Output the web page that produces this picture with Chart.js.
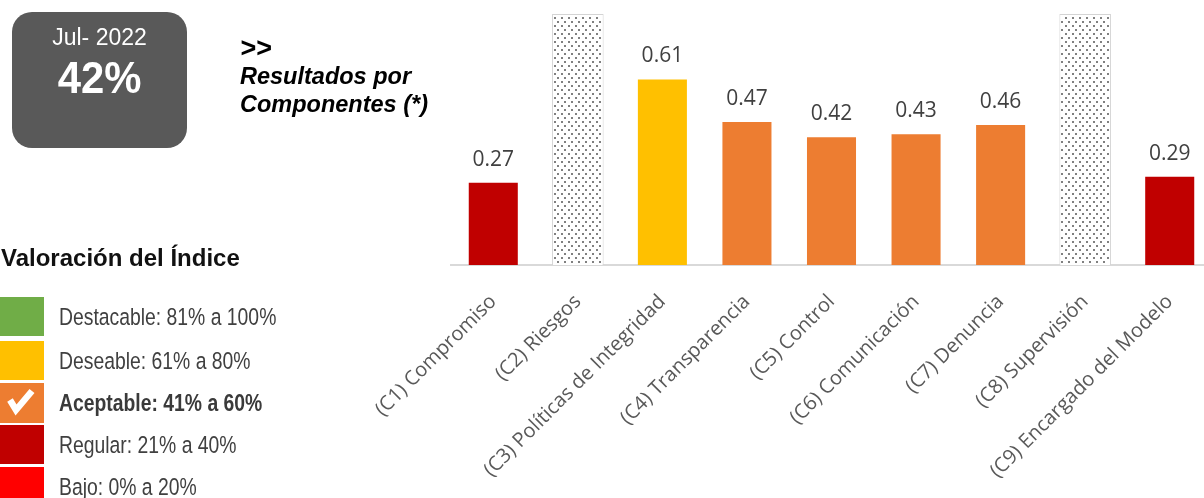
<!DOCTYPE html>
<html>
<head>
<meta charset="utf-8">
<script src="https://cdn.jsdelivr.net/npm/chart.js@4.4.1/dist/chart.umd.min.js"></script>
<style>
  html, body { margin:0; padding:0; background:#fff; width:1204px; height:498px; overflow:hidden; position:relative; }
  .t { position:absolute; white-space:nowrap; line-height:1; font-family:"Liberation Sans", Arial, sans-serif; z-index:2; }
  .box { position:absolute; left:12px; top:12px; width:175px; height:136px; border-radius:20px; background:#595959; z-index:1; }
  .sw { position:absolute; left:0; width:44px; z-index:2; }
  .lg { color:#404040; font-size:24.5px; transform-origin:0 0; transform:scaleX(0.79); }
  #wrap { position:absolute; left:0; top:0; width:1220px; height:498px; z-index:0; }
</style>
</head>
<body>
<div class="box"></div>
<div class="t" style="left:12px;width:175px;text-align:center;top:25.5px;font-size:23px;color:#fff;">Jul- 2022</div>
<div class="t" style="left:12px;width:175px;text-align:center;top:56.3px;font-size:44.5px;font-weight:bold;color:#fff;transform:scaleX(0.94);">42%</div>

<div class="t" style="left:240px;top:34.5px;font-size:27px;font-weight:bold;font-style:italic;color:#000;">&gt;&gt;</div>
<div class="t" style="left:240px;top:65.1px;font-size:23.5px;font-weight:bold;font-style:italic;color:#000;">Resultados por</div>
<div class="t" style="left:240px;top:93.1px;font-size:23.5px;font-weight:bold;font-style:italic;color:#000;">Componentes (*)</div>

<div class="t" style="left:1px;top:246.4px;font-size:24px;font-weight:bold;color:#111;">Valoración del Índice</div>

<div id="legend"></div>

<div id="wrap"><canvas id="c" width="1220" height="498"></canvas></div>

<script>
// ---- data ----
const categories = ["(C1) Compromiso", "(C2) Riesgos", "(C3) Políticas de Integridad", "(C4) Transparencia",
  "(C5) Control", "(C6) Comunicación", "(C7) Denuncia", "(C8) Supervisión", "(C9) Encargado del Modelo"];
const componentValues = [0.27, null, 0.61, 0.47, 0.42, 0.43, 0.46, null, 0.29];
const notEvaluated = [null, 0.825, null, null, null, null, null, 0.825, null];
const axisMax = 0.825;

const bandLabels = ["Destacable: 81% a 100%", "Deseable: 61% a 80%", "Aceptable: 41% a 60%", "Regular: 21% a 40%", "Bajo: 0% a 20%"];
const bandMins = [0.81, 0.61, 0.41, 0.21, 0];
const bandColors = ["#70ad47", "#ffc000", "#ed7d31", "#c00000", "#ff0000"];
const currentBand = 2;

// ---- legend (HTML) ----
const swTops = [297, 341, 383, 425, 467];
const swH = [39, 39, 40, 39, 34];
const legend = document.getElementById('legend');
bandLabels.forEach((lab, i) => {
  const sw = document.createElement('div');
  sw.className = 'sw';
  sw.style.top = swTops[i] + 'px';
  sw.style.height = swH[i] + 'px';
  sw.style.background = bandColors[i];
  legend.appendChild(sw);
  const t = document.createElement('div');
  t.className = 't lg';
  const fs = 24.5;
  const baseline = swTops[i] + 19.5 + 8.8;
  t.style.top = (baseline - 0.8465 * fs) + 'px';
  t.style.left = '59px';
  if (i === currentBand) { t.style.fontWeight = 'bold'; t.style.color = '#3a3a3a'; }
  t.textContent = lab;
  legend.appendChild(t);
});
// check mark
const ns = 'http://www.w3.org/2000/svg';
const svg = document.createElementNS(ns, 'svg');
svg.setAttribute('width', '44'); svg.setAttribute('height', '40');
svg.style.position = 'absolute'; svg.style.left = '0px'; svg.style.top = swTops[currentBand] + 'px'; svg.style.zIndex = 3;
const pl = document.createElementNS(ns, 'polyline');
pl.setAttribute('points', '10,17 16,27 32,8');
pl.setAttribute('fill', 'none'); pl.setAttribute('stroke', '#fff'); pl.setAttribute('stroke-width', '6.5');
pl.setAttribute('stroke-linejoin', 'miter');
svg.appendChild(pl);
legend.appendChild(svg);

// ---- pattern for not evaluated bars ----
function makePattern() {
  const p = document.createElement('canvas');
  p.width = 14; p.height = 8;
  const g = p.getContext('2d');
  g.fillStyle = '#ffffff'; g.fillRect(0, 0, 14, 8);
  g.fillStyle = '#808080';
  [[1,1],[8,1],[4,5],[11,5]].forEach(([x,y]) => g.fillRect(x, y, 2, 2));
  return document.getElementById('c').getContext('2d').createPattern(p, 'repeat');
}

function bandColor(v) {
  for (let i = 0; i < bandMins.length; i++) if (v >= bandMins[i]) return bandColors[i];
  return bandColors[bandColors.length - 1];
}

const valueLabels = {
  id: 'valueLabels',
  afterDatasetsDraw(chart) {
    const ctx = chart.ctx;
    const meta = chart.getDatasetMeta(0);
    ctx.save();
    ctx.font = '21px "Open Sans"';
    ctx.fillStyle = '#404040';
    ctx.textAlign = 'center';
    ctx.textBaseline = 'alphabetic';
    meta.data.forEach((el, i) => {
      const v = componentValues[i];
      if (v === null) return;
      ctx.fillText(v.toFixed(2), el.x, el.y - 17);
    });
    ctx.restore();
  }
};

new Chart(document.getElementById('c'), {
  type: 'bar',
  data: {
    labels: categories,
    datasets: [
      {
        data: componentValues,
        backgroundColor: componentValues.map(v => v === null ? 'transparent' : bandColor(v)),
        borderWidth: 0,
        barPercentage: 0.58,
        categoryPercentage: 1,
        grouped: false,
        order: 1
      },
      {
        data: notEvaluated,
        backgroundColor: makePattern(),
        borderColor: '#d4d4d4',
        borderWidth: 1,
        barPercentage: 0.61,
        categoryPercentage: 1,
        grouped: false,
        order: 2
      }
    ]
  },
  options: {
    responsive: false,
    animation: false,
    events: [],
    layout: { padding: { left: 451, right: 8, top: 14, bottom: 0 } },
    plugins: { legend: { display: false }, tooltip: { enabled: false } },
    scales: {
      x: {
        grid: { display: false, drawTicks: false },
        border: { display: true, color: '#d9d9d9', width: 2 },
        ticks: {
          autoSkip: false,
          minRotation: 45,
          maxRotation: 45,
          padding: 25,
          color: '#595959',
          font: { family: '"Open Sans"', size: 20 }
        },
        afterFit: (s) => { s.height = 233; s.paddingLeft = 0; s.paddingRight = 0; }
      },
      y: { display: false, min: 0, max: axisMax }
    }
  },
  plugins: [valueLabels]
});
</script>
</body>
</html>
